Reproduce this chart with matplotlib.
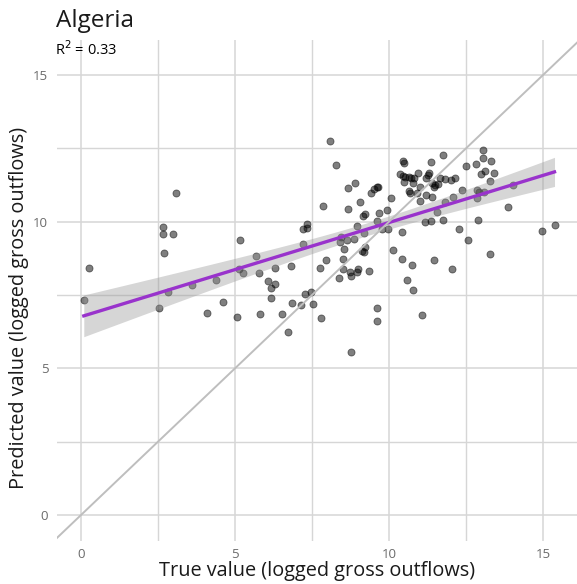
import numpy as np
import matplotlib
matplotlib.use("Agg")
import matplotlib.pyplot as plt
from matplotlib.ticker import MultipleLocator

plt.rcParams['font.family'] = ['Open Sans', 'DejaVu Sans']

title = "Algeria"
xlabel = "True value (logged gross outflows)"
ylabel = "Predicted value (logged gross outflows)"
r2_text = "R$^2$ = 0.33"

true_vals = [0.09, 0.25, 2.54, 2.66, 2.67, 2.70, 2.81, 2.98, 3.09, 3.60, 4.10, 4.37, 4.61,
             5.07, 5.12, 5.15, 5.27, 5.67, 5.77, 5.80,
             6.06, 6.18, 6.18, 6.31, 6.31, 6.51, 6.72, 6.82, 6.86,
             7.14, 7.19, 7.19, 7.27, 7.32, 7.34, 7.48, 7.54, 7.77, 7.78, 7.85, 7.96,
             8.08, 8.28, 8.37, 8.41, 8.43, 8.52, 8.52, 8.55, 8.65, 8.67, 8.68, 8.74, 8.77, 8.77,
             8.86, 8.90, 8.95, 8.97, 8.98,
             9.07, 9.12, 9.15, 9.17, 9.19, 9.21, 9.23, 9.34, 9.40, 9.51, 9.60, 9.64, 9.60, 9.62,
             9.62, 9.67, 9.77, 9.92, 9.96,
             10.06, 10.14, 10.34, 10.41, 10.43, 10.44, 10.45, 10.47, 10.50, 10.52, 10.57, 10.64,
             10.65, 10.68, 10.70, 10.76, 10.77, 10.79, 10.81, 10.91, 10.95, 10.99, 10.99,
             11.08, 11.15, 11.19, 11.21, 11.25, 11.30, 11.37, 11.37, 11.39, 11.39, 11.46, 11.47,
             11.49, 11.57, 11.60, 11.65, 11.75, 11.76, 11.82, 11.82,
             12.02, 12.05, 12.06, 12.15, 12.26, 12.37, 12.49, 12.57, 12.82, 12.86, 12.86, 12.88,
             12.91, 12.98,
             13.06, 13.06, 13.07, 13.12, 13.28, 13.28, 13.32, 13.40, 13.85, 14.01, 14.95, 15.37]
pred_vals = [7.33, 8.41, 7.05, 9.82, 9.59, 8.94, 7.61, 9.57, 10.98, 7.83, 6.88, 8.01, 7.26,
             6.76, 8.39, 9.37, 8.24, 8.84, 8.26, 6.84,
             7.99, 7.74, 7.41, 7.88, 8.43, 6.85, 6.25, 8.50, 7.24,
             7.16, 9.22, 9.74, 7.53, 9.93, 9.79, 7.61, 7.18, 8.43, 6.72, 10.54, 8.69,
             12.75, 11.93, 8.07, 9.31, 9.49, 8.39, 8.73, 9.06, 9.36, 10.44, 11.15, 8.29, 8.16, 5.55,
             9.42, 11.32, 8.29, 9.85, 8.38,
             10.67, 8.99, 10.19, 9.60, 8.98, 10.26, 9.13, 8.33, 10.97, 11.10, 11.18, 11.19, 10.01, 7.06,
             6.62, 10.29, 9.74, 10.41, 9.76,
             10.80, 9.02, 11.63, 9.63, 8.72, 11.56, 12.05, 11.99, 11.36, 11.53, 8.00, 11.52,
             11.05, 10.99, 11.48, 8.53, 11.31, 7.67, 11.47, 10.99, 11.65, 11.19, 10.71,
             6.81, 9.97, 10.89, 11.47, 11.58, 11.64, 12.04, 10.02, 11.31, 10.85, 11.19, 8.70,
             11.25, 10.33, 11.27, 11.48, 12.26, 10.06, 11.46, 10.68,
             11.41, 8.39, 10.85, 11.50, 9.75, 11.08, 11.91, 9.38, 11.96, 11.08, 10.80, 10.06,
             11.01, 11.63,
             12.44, 12.17, 11.00, 11.74, 11.40, 8.91, 12.08, 11.66, 10.49, 11.24, 9.69, 9.89]

x = np.array(true_vals)
y = np.array(pred_vals)

fig = plt.figure(figsize=(5.77, 5.84), dpi=100)
ax = fig.add_axes([57.3/577, 1-541.4/584, 1-57.3/577, (541.4-40)/584])

xlim = (-0.77, 16.1)
ylim = (-0.9, 16.19)
ax.set_xlim(*xlim)
ax.set_ylim(*ylim)

ax.xaxis.set_major_locator(MultipleLocator(5))
ax.yaxis.set_major_locator(MultipleLocator(5))
ax.xaxis.set_minor_locator(MultipleLocator(2.5))
ax.yaxis.set_minor_locator(MultipleLocator(2.5))
ax.grid(which='major', color='#D6D6D6', linewidth=1.1, zorder=0)
ax.grid(which='minor', color='#D6D6D6', linewidth=1.0, zorder=0)
ax.set_axisbelow(True)
for s in ax.spines.values():
    s.set_visible(False)
ax.tick_params(which='both', length=0)
ax.tick_params(axis='x', pad=4.8, labelsize=9.5, labelcolor='#6b6b6b')
ax.tick_params(axis='y', pad=6.5, labelsize=9.5, labelcolor='#6b6b6b')

# points
ax.scatter(x, y, s=26, color='black', alpha=0.5, linewidths=0.6, zorder=2)

# linear fit with 95% CI
n = len(x)
slope, intercept = np.polyfit(x, y, 1)
xs = np.linspace(x.min(), x.max(), 100)
yhat = intercept + slope * xs
resid = y - (intercept + slope * x)
s_err = np.sqrt(np.sum(resid**2) / (n - 2))
se = s_err * np.sqrt(1/n + (xs - x.mean())**2 / np.sum((x - x.mean())**2))
tval = 1.976
ax.fill_between(xs, yhat - tval*se, yhat + tval*se, color='#999999', alpha=0.4,
                linewidth=0, zorder=3)
ax.plot(xs, yhat, color='#9933CC', linewidth=2.4, zorder=4)

# identity line
lims = np.array([-2, 18])
ax.plot(lims, lims, color='#BEBEBE', linewidth=1.4, zorder=5)

fig.text(317/577, 1-576/584, xlabel, fontsize=14.3, va='baseline', ha='center', color='#1a1a1a')
fig.text(19/577, 1-308/584, ylabel, fontsize=14.3, va='center', ha='center',
         rotation=90, color='#1a1a1a')

fig.text(56/577, 1-26.7/584, title, fontsize=17.5, va='baseline', ha='left', color='#1a1a1a')
fig.text(55/577, 1-55/584, r2_text, fontsize=10.5, va='baseline', ha='left', color='black')

fig.savefig("out.png", dpi=100)
